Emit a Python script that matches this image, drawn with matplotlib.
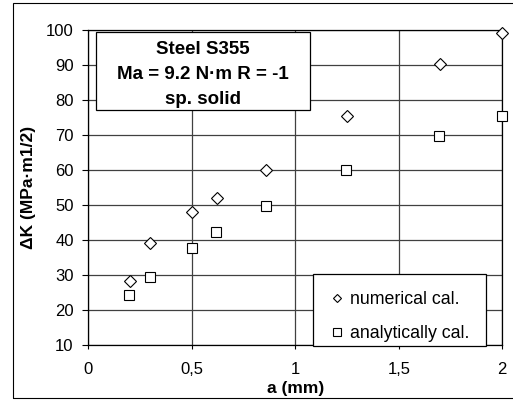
import matplotlib
matplotlib.use("Agg")
import matplotlib.pyplot as plt
from matplotlib.patches import Rectangle
from matplotlib.lines import Line2D

plt.rcParams['font.family'] = ['Liberation Sans', 'DejaVu Sans']

# data
a_num = [0.2, 0.3, 0.5, 0.62, 0.86, 1.25, 1.7, 2.0]
dk_num = [28.2, 39.0, 47.8, 51.9, 59.9, 75.3, 90.2, 98.9]
a_ana = [0.195, 0.298, 0.5, 0.617, 0.857, 1.246, 1.694, 2.0]
dk_ana = [24.4, 29.5, 37.8, 42.2, 49.6, 59.8, 69.7, 75.4]
xticks = [0, 0.5, 1, 1.5, 2]
xticklabels = ['0', '0,5', '1', '1,5', '2']
yticks = [10, 20, 30, 40, 50, 60, 70, 80, 90, 100]
label_num = 'numerical cal.'
label_ana = 'analytically cal.'
box_text = 'Steel S355\nMa = 9.2 N·m R = -1\nsp. solid'

W, H = 513, 401
fig = plt.figure(figsize=(W / 100, H / 100), dpi=100)

def fx(px):
    return px / W

def fy(py):
    return 1 - py / H

ax = fig.add_axes([fx(88.3), fy(345), fx(502.3) - fx(88.3), fy(29.5) - fy(345)])

# outer frame
fig.patches.append(Rectangle((fx(12.5), fy(398)), fx(530) - fx(12.5), fy(3) - fy(398),
                             transform=fig.transFigure, fill=False, edgecolor='black',
                             linewidth=0.8))

ax.plot(a_num, dk_num, linestyle='none', marker='D', markersize=6.5,
        markerfacecolor='white', markeredgecolor='black', markeredgewidth=0.8,
        clip_on=False, zorder=3)
ax.plot(a_ana, dk_ana, linestyle='none', marker='s', markersize=7,
        markerfacecolor='white', markeredgecolor='black', markeredgewidth=0.8,
        clip_on=False, zorder=3)

ax.set_xlim(0, 2)
ax.set_ylim(10, 100)
ax.set_xticks(xticks)
ax.set_xticklabels(xticklabels)
ax.set_yticks(yticks)
ax.grid(True, color='#404040', linewidth=0.9)
ax.set_axisbelow(True)
for s in ax.spines.values():
    s.set_color('black')
    s.set_linewidth(0.9)
ax.tick_params(axis='y', direction='out', length=4, width=0.8, pad=6.5, labelsize=12)
ax.tick_params(axis='x', direction='out', length=3, width=0.8, pad=9, labelsize=12)

ax.set_xlabel('a (mm)', fontsize=12.5, fontweight='bold', labelpad=3)
ax.set_ylabel('ΔK (MPa·m1/2)', fontsize=12.5, fontweight='bold', labelpad=7)

# text box
fig.patches.append(Rectangle((fx(96), fy(110)), fx(310) - fx(96), fy(32.3) - fy(110),
                             transform=fig.transFigure, facecolor='white',
                             edgecolor='black', linewidth=0.9, zorder=5))
fig.text(fx(203), fy(74.2), box_text, ha='center', va='center', multialignment='center',
         fontsize=13.5, fontweight='bold', linespacing=1.6, zorder=6)

# legend box
ax.add_patch(Rectangle((fx(313.3), fy(346)), fx(486) - fx(313.3), fy(274) - fy(346),
                       transform=fig.transFigure, facecolor='white', edgecolor='black',
                       linewidth=0.9, zorder=4, clip_on=False))
handles = [
    Line2D([], [], linestyle='none', marker='D', markersize=4.5, markerfacecolor='white',
           markeredgecolor='black', markeredgewidth=0.8),
    Line2D([], [], linestyle='none', marker='s', markersize=6, markerfacecolor='white',
           markeredgecolor='black', markeredgewidth=0.8),
]
leg = ax.legend(handles, [label_num, label_ana], loc='upper left',
                bbox_to_anchor=(fx(329.5), fy(291)), bbox_transform=fig.transFigure,
                frameon=False, fontsize=12.8, borderpad=0, borderaxespad=0,
                handlelength=0.8, handletextpad=0.35, labelspacing=0.95)
leg.set_zorder(6)

fig.savefig('out.png', dpi=100)
